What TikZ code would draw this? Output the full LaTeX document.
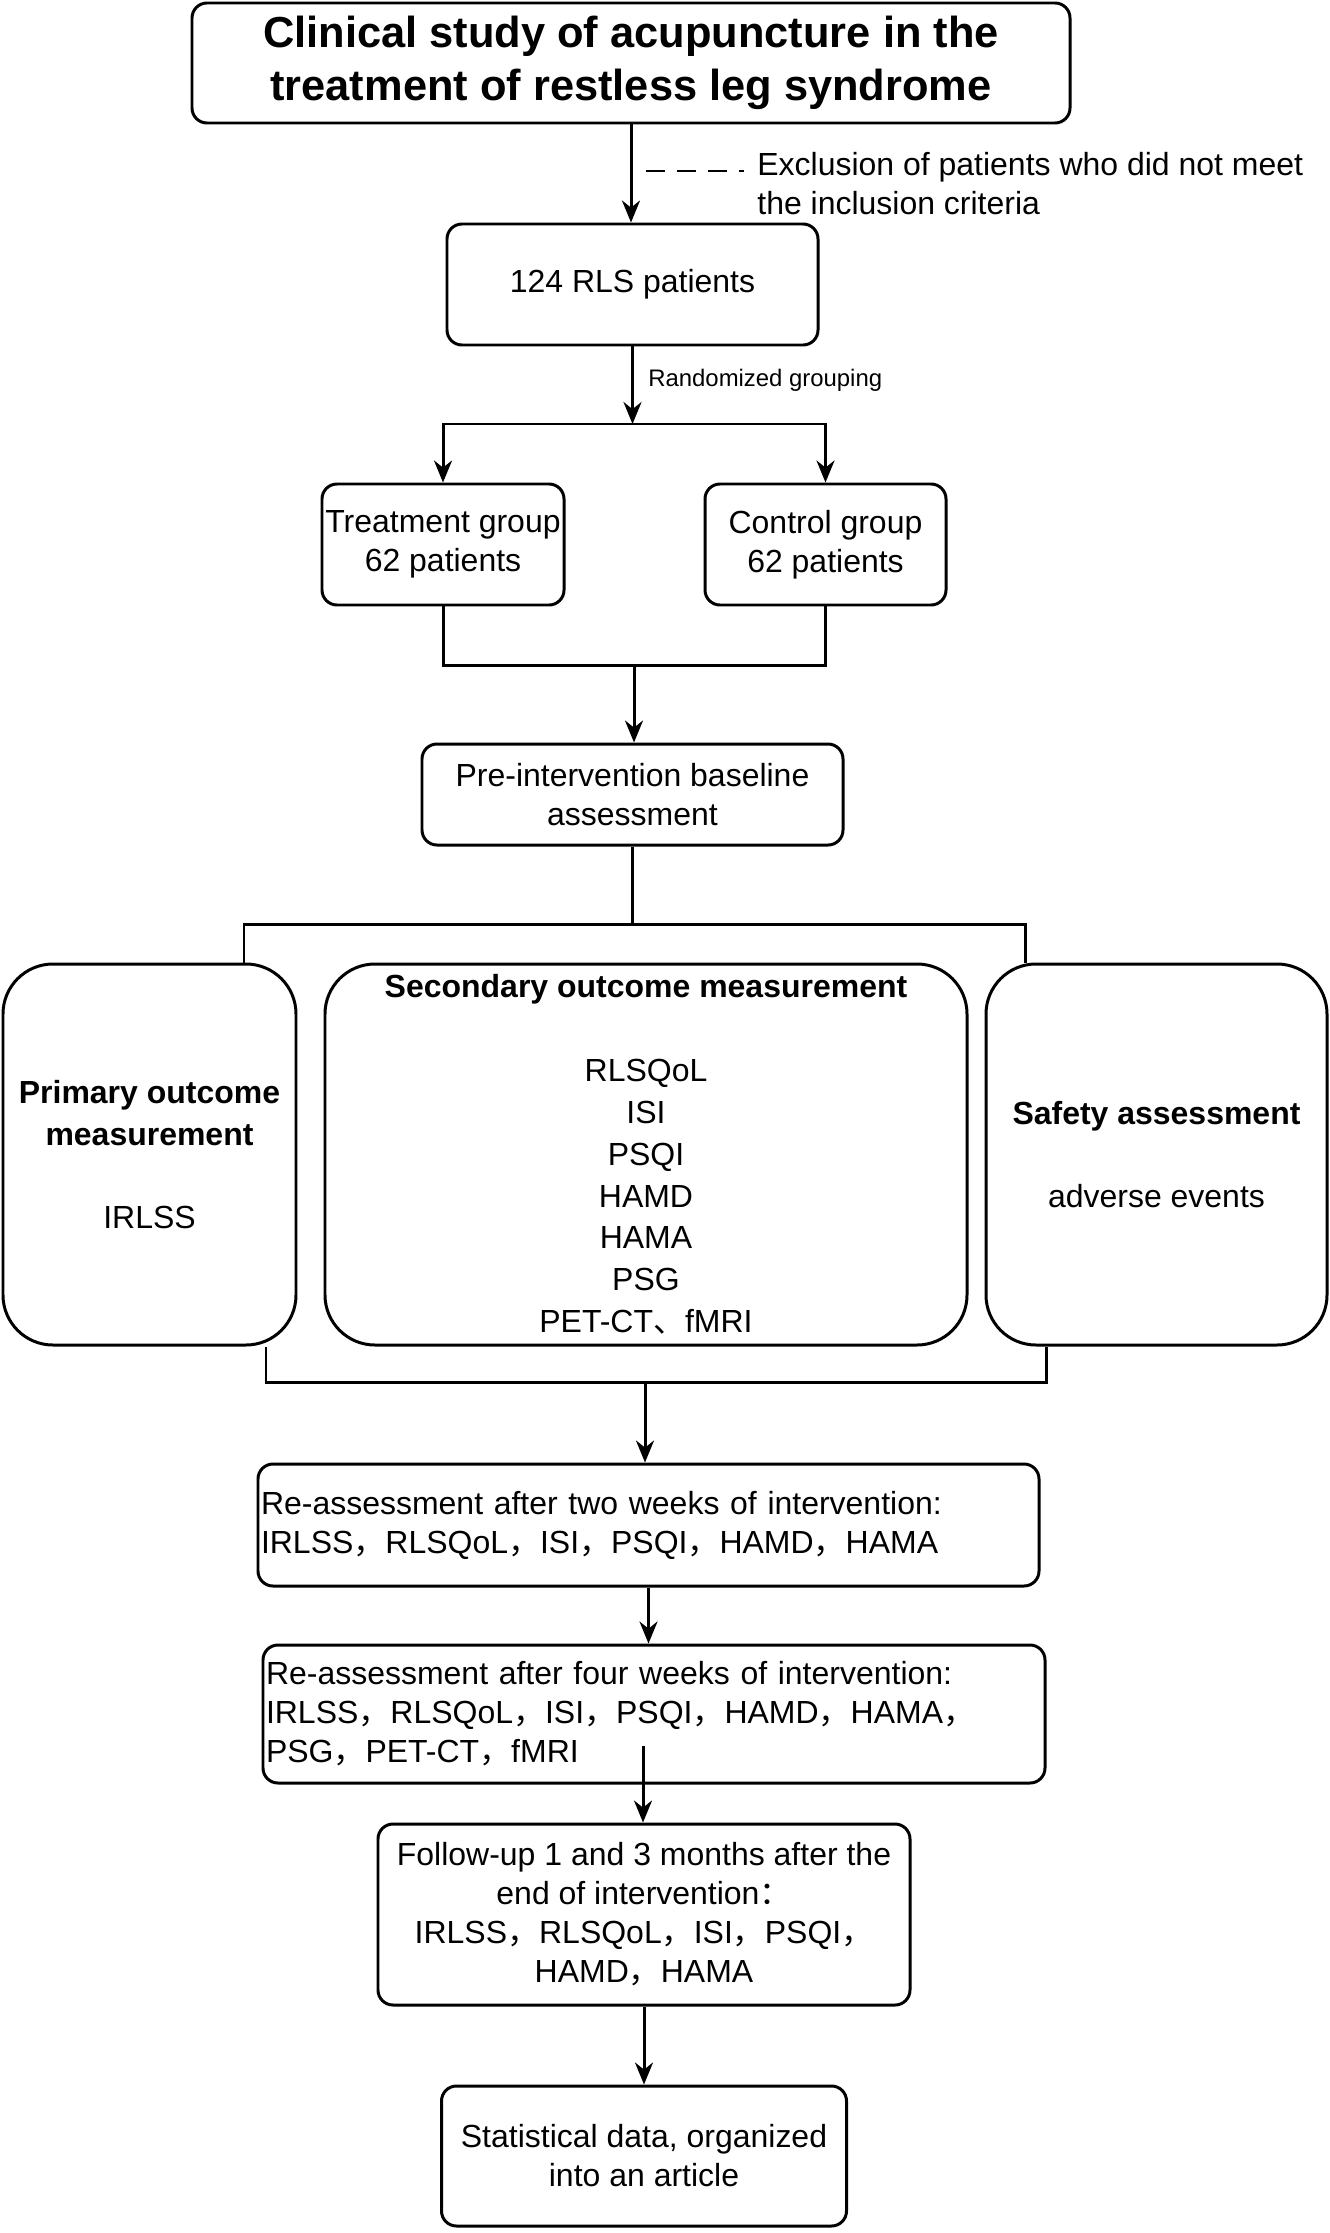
\documentclass[tikz,border=0pt]{standalone}
\usepackage{fontspec}
\setmainfont{Liberation Sans}
\newfontfamily\cjk{Noto Sans CJK SC}
\usetikzlibrary{arrows.meta, positioning}

\newcommand{\zhcomma}{{\cjk ，}}
\newcommand{\zhcolon}{{\cjk ：}}
\newcommand{\zhdun}{{\cjk 、}}

\begin{document}
\begin{tikzpicture}[
  box/.style={
    rectangle, rounded corners=0.3cm,
    draw, line width=1.7pt, align=center, inner sep=0pt,
    font=\fontsize{18.2}{22.2}\selectfont
  },
  titlebox/.style={
    box, font=\fontsize{24.7}{30.2}\selectfont\bfseries
  },
  measbox/.style={
    box, rounded corners=1cm, minimum height=7.62cm,
    font=\fontsize{18.2}{23.8}\selectfont
  },
  reassess/.style={
    box, align=left, inner xsep=0.06cm
  },
  wire/.style={line width=1.7pt},
  arr/.style={-{Stealth[length=0.44cm, width=0.36cm]}, line width=1.7pt},
  note/.style={anchor=west, inner sep=0pt, align=left,
               font=\fontsize{18.2}{22.2}\selectfont},
  lbl/.style={anchor=west, inner sep=0pt, font=\fontsize{13.6}{16}\selectfont},
]
\useasboundingbox (0,0) rectangle (26.58,-44.66);

%% ════════════════════════════════════════════════
%% ENROLMENT
%% ════════════════════════════════════════════════

\node[titlebox, minimum width=17.56cm, minimum height=2.4cm]
  (title) at (12.62,-1.26) {Clinical study of acupuncture in the\\treatment of restless leg syndrome};

\node[box, minimum width=7.42cm, minimum height=2.42cm]
  (rls) at (12.65,-5.69) {124 RLS patients};

\node[note] (excl) at (15.14,-3.68) {Exclusion of patients who did not meet\\the inclusion criteria};
\coordinate (exclstart) at (12.92,-3.42);

\draw[arr] (title.south) -- (title.south |- rls.north);
\draw[wire, dash pattern=on 0.38cm off 0.24cm] (exclstart) -- (14.88,-3.42);

%% Randomisation into two arms
\node[box, minimum width=4.84cm, minimum height=2.42cm]
  (treat) at (8.86,-10.89) {Treatment group\\62 patients};
\node[box, minimum width=4.82cm, minimum height=2.42cm]
  (ctrl) at (16.51,-10.89) {Control group\\62 patients};

\coordinate (split) at (12.65,-8.48);
\draw[arr] (rls.south) -- (split);
\node[lbl] (rand) at (12.96,-7.6) {Randomized grouping};
\draw[arr] (split) -| (treat.north);
\draw[arr] (split) -| (ctrl.north);

%% Baseline
\node[box, minimum width=8.42cm, minimum height=2.02cm]
  (pre) at (12.65,-15.89) {Pre-intervention baseline\\assessment};

\coordinate (merge) at (12.68,-13.3);
\draw[wire] (treat.south) |- (merge) -| (ctrl.south);
\draw[arr] (merge) -- (merge |- pre.north);

%% ════════════════════════════════════════════════
%% OUTCOMES
%% ════════════════════════════════════════════════

\node[measbox, minimum width=5.86cm]
  (prim) at (2.99,-23.09) {\textbf{Primary outcome}\\\textbf{measurement}\\ \\IRLSS};
\node[measbox, minimum width=12.84cm]
  (sec) at (12.92,-23.09) {\textbf{Secondary outcome measurement}\\ \\RLSQoL\\ISI\\PSQI\\HAMD\\HAMA\\PSG\\PET-CT\zhdun fMRI};
\node[measbox, minimum width=6.82cm]
  (safe) at (23.13,-23.09) {\textbf{Safety assessment}\\ \\adverse events};

\coordinate (fanL) at (4.88,-18.48);
\coordinate (fanR) at (20.5,-18.48);
\draw[wire] (pre.south) -- (pre.south |- fanL);
\draw[wire] (fanL |- prim.north) -- (fanL) -- (fanR) -- (fanR |- safe.north);

\coordinate (joinL) at (5.32,-27.64);
\coordinate (joinR) at (20.92,-27.64);
\coordinate (joinM) at (12.9,-27.64);
\draw[wire] (joinL |- prim.south) -- (joinL) -- (joinR) -- (joinR |- safe.south);

%% ════════════════════════════════════════════════
%% FOLLOW-UP
%% ════════════════════════════════════════════════

\node[reassess, text width=15.5cm, minimum height=2.44cm]
  (re2) at (12.97,-30.5) {Re-assessment after two weeks of intervention:\\IRLSS\zhcomma RLSQoL\zhcomma ISI\zhcomma PSQI\zhcomma HAMD\zhcomma HAMA};
\node[reassess, text width=15.52cm, minimum height=2.76cm]
  (re4) at (13.08,-34.28) {Re-assessment after four weeks of intervention:\\IRLSS\zhcomma RLSQoL\zhcomma ISI\zhcomma PSQI\zhcomma HAMD\zhcomma HAMA\zhcomma\\PSG\zhcomma PET-CT\zhcomma fMRI};
\node[box, minimum width=10.64cm, minimum height=3.62cm]
  (fu) at (12.88,-38.29) {Follow-up 1 and 3 months after the\\end of intervention\zhcolon\\IRLSS\zhcomma RLSQoL\zhcomma ISI\zhcomma PSQI\zhcomma\\HAMD\zhcomma HAMA};
\node[box, minimum width=8.1cm, minimum height=2.8cm, below=1.56cm of fu]
  (stat) {Statistical data, organized\\into an article};

\coordinate (re4out) at (12.86,-34.92);
\draw[arr] (joinM) -- (joinM |- re2.north);
\draw[arr] (re2.south) -- (re2.south |- re4.north);
\draw[arr] (re4out) -- (re4out |- fu.north);
\draw[arr] (fu) -- (stat);

\end{tikzpicture}
\end{document}
